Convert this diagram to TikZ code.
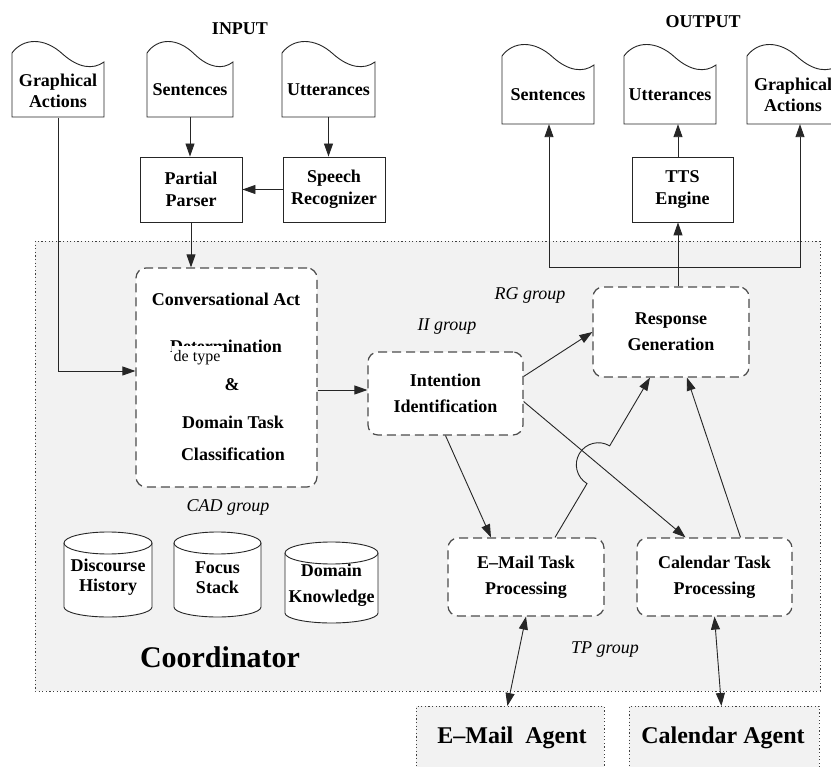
\documentclass[tikz,border=0pt]{standalone}
\usepackage{fontspec}
\setmainfont{Liberation Serif}
\usetikzlibrary{arrows.meta,calc}
\definecolor{bggray}{HTML}{F2F2F2}
\newcommand\docshape[4]{% x0 x1 yc yb
  \draw[draw=black!85,line width=0.9pt,fill=white] (#1,#4) -- (#1,{#3-9})
   .. controls ({#1+0.12*(#2-#1)},{#3-24}) and ({#1+0.35*(#2-#1)},{#3-25}) .. ({#1+0.55*(#2-#1)},{#3-8})
   .. controls ({#1+0.72*(#2-#1)},{#3+6}) and ({#1+0.88*(#2-#1)},{#3+8}) .. (#2,#3) -- (#2,#4) -- cycle;}
\newcommand\cylshape[4]{% x0 x1 ytop ybot
  \draw[line width=0.9pt,draw=black!85,fill=white] (#1,{#3+11}) -- (#1,{#4-10})
    arc[start angle=180,end angle=0,x radius={(#2-#1)/2},y radius=10] -- (#2,{#3+11});
  \draw[line width=0.9pt,draw=black!85,fill=white] ({(#1+#2)/2},{#3+11}) ellipse[x radius={(#2-#1)/2},y radius=11];}
\begin{document}
\begin{tikzpicture}[x=1pt,y=-1pt,
  conn/.style={draw=black!85, line width=0.9pt},
  arr/.style={conn,-{Triangle[length=13pt,width=9pt]}},
  darr/.style={conn,{Triangle[length=13pt,width=9pt]}-{Triangle[length=13pt,width=9pt]}},
  plainbox/.style={draw=black!85,line width=0.9pt,fill=white,inner sep=0pt,align=center,font=\fontsize{18}{22}\selectfont\bfseries},
  dbox/.style={draw=black!70,line width=1.2pt,dash pattern=on 9pt off 5pt,rounded corners=10pt,fill=white,inner sep=0pt,align=center,font=\fontsize{18}{26}\selectfont\bfseries},
  dotbox/.style={draw=black!75,line width=0.8pt,dash pattern=on 1.2pt off 2.4pt,fill=bggray},
  grp/.style={inner sep=0pt,font=\fontsize{18}{22}\selectfont\itshape},
  ttl/.style={inner sep=0pt,font=\fontsize{18}{22}\selectfont\bfseries},
  bodytext/.style={align=center,inner sep=0pt,font=\fontsize{18}{21}\selectfont\bfseries},
  cadtext/.style={anchor=base,inner sep=0pt,font=\fontsize{18}{22}\selectfont\bfseries},
]
\useasboundingbox (0,0) rectangle (831,767);
\clip (0,0) rectangle (831,767);
\fill[white] (0,0) rectangle (831,767);

% Coordinator background
\draw[dotbox] (35,241) rectangle (820,691);
\node[inner sep=0pt,font=\fontsize{30}{34}\selectfont\bfseries] (coord) at (220,657) {Coordinator};

% Agents
\node[dotbox,minimum width=188pt,minimum height=80pt,anchor=north west,inner sep=0pt] (ema) at (416,706) {};
\node[inner sep=0pt,font=\fontsize{24}{28}\selectfont\bfseries] (ematext) at (512,738) {E--Mail\ \ Agent};
\node[dotbox,minimum width=190pt,minimum height=80pt,anchor=north west,inner sep=0pt] (cala) at (629,706) {};
\node[inner sep=0pt,font=\fontsize{24}{28}\selectfont\bfseries] (calatext) at (723,738) {Calendar Agent};

% Titles
\node[ttl] (input) at (240,29) {INPUT};
\node[ttl] (output) at (703,22) {OUTPUT};

% Input documents
\docshape{12}{104}{62}{117}
\node[bodytext,minimum width=92pt,minimum height=55pt] (inga) at (58,90.5) {Graphical\\Actions};
\docshape{147}{233}{62}{117}
\node[bodytext,minimum width=86pt,minimum height=55pt] (ins) at (190,89.5) {Sentences};
\docshape{282}{375}{62}{117}
\node[bodytext,minimum width=93pt,minimum height=55pt] (inu) at (328.5,89.5) {Utterances};

% Output documents
\docshape{502}{594}{65}{124}
\node[bodytext,minimum width=92pt,minimum height=59pt] (outs) at (548,94.5) {Sentences};
\docshape{624}{716}{65}{124}
\node[bodytext,minimum width=92pt,minimum height=59pt] (outu) at (670,94.5) {Utterances};
\docshape{747}{839}{65}{124}
\node[bodytext,minimum width=92pt,minimum height=59pt] (outga) at (793,94.5) {Graphical\\Actions};

% Input processing
\node[plainbox,minimum width=102pt,minimum height=65pt] (pp) at (191,189.5) {Partial\\Parser};
\node[plainbox,minimum width=102pt,minimum height=65pt] (sr) at (334,189.5) {Speech\\Recognizer};
\node[plainbox,minimum width=101pt,minimum height=65pt] (tts) at (682.5,189.5) {TTS\\Engine};

% Dashed groups
\node[dbox,minimum width=181pt,minimum height=219pt] (cad) at (226.5,377.5) {};
\node[cadtext] (cad1) at (226,306) {Conversational Act};
\node[cadtext] (cad2) at (226,353) {Determination};
\node[anchor=base west,fill=white,inner sep=1.5pt,text height=14pt,font=\fontsize{16}{18}\selectfont] (cad3) at (172,362) {de type};
\node[cadtext] (cad4) at (232,391) {\&};
\node[cadtext] (cad5) at (233,429) {Domain Task};
\node[cadtext] (cad6) at (233,461) {Classification};

\node[dbox,minimum width=155pt,minimum height=83pt] (ii) at (445.5,393.5) {Intention\\Identification};
\node[dbox,minimum width=156pt,minimum height=90pt] (rg) at (671,332) {Response\\Generation};
\node[dbox,minimum width=156pt,minimum height=78pt] (em) at (526,577) {E--Mail Task\\Processing};
\node[dbox,minimum width=155pt,minimum height=78pt] (cal) at (714.5,577) {Calendar Task\\Processing};

% Group labels
\node[grp] (cadg) at (228,507) {CAD group};
\node[grp] (iig) at (447,327) {II group};
\node[grp] (rgg) at (530,295) {RG group};
\node[grp] (tpg) at (605,650) {TP group};

% Knowledge cylinders
\cylshape{64}{152}{532}{617}
\node[bodytext,font=\fontsize{18}{20}\selectfont\bfseries] (dh) at (108,577) {Discourse\\History};
\cylshape{174}{261}{532}{617}
\node[bodytext,font=\fontsize{18}{20}\selectfont\bfseries] (fs) at (217.5,578) {Focus\\Stack};
\cylshape{285}{378}{542}{623}
\node[bodytext,font=\fontsize{18}{26}\selectfont\bfseries] (dk) at (331.5,585) {Domain\\Knowledge};

% Input connectors
\draw[arr] (ins.south) -- (ins.south |- pp.north);
\draw[arr] (inu.south) -- (inu.south |- sr.north);
\draw[arr] (sr.west) -- (pp.east);
\draw[arr] (pp.south) -- (pp.south |- cad.north);
\draw[arr] (inga.south) |- ([yshift=6.5pt]cad.west);

% Main flow
\draw[arr] ([yshift=-12.5pt]cad.east) -- ([yshift=-12.5pt]cad.east -| ii.west);
\draw[arr] ([yshift=17pt]ii.east) -- (rg.west);
\draw[arr] (ii.south) -- ([xshift=-35pt]em.north);
\draw[arr] ([yshift=-8pt]ii.east) -- ([xshift=-29pt]cal.north);
\coordinate (jA) at (587,483.6);
\draw[arr] ([xshift=29pt]em.north) -- (jA) arc[start angle=121,end angle=301,radius=22] -- ([xshift=-21pt]rg.south);
\draw[arr] ([xshift=26pt]cal.north) -- ([xshift=16pt]rg.south);

% Agents connections
\draw[darr] (em.south) -- ([xshift=-3pt]ema.north);
\draw[darr] (cal.south) -- ([xshift=-3pt]cala.north);

% Output connectors
\coordinate (bus) at (678,267);
\coordinate (busL) at (549,267);
\coordinate (busR) at (800,267);
\draw[conn] (rg.north -| bus) -- (bus);
\draw[arr] (bus) -- (bus |- tts.south);
\draw[arr] (tts.north -| bus) -- (bus |- outu.south);
\draw[arr] (bus) -- (busL) -- (busL |- outs.south);
\draw[arr] (bus) -- (busR) -- (busR |- outga.south);
\end{tikzpicture}
\end{document}
